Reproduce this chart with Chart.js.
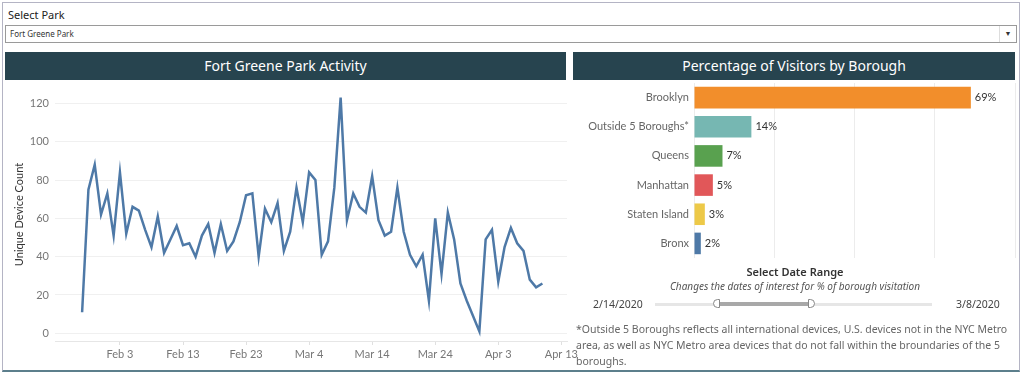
<!DOCTYPE html>
<html>
<head>
<meta charset="utf-8">
<script src="https://cdn.jsdelivr.net/npm/chart.js@4"></script>
<style>
    body { margin: 0; width: 1024px; height: 376px; background: #fff; font-family: "Noto Sans", sans-serif; overflow: hidden; }
    #frame { position: absolute; left: 2px; top: 2px; width: 1016px; height: 367px; border: 1px solid #b4b4c4; border-bottom: 2px solid #5c7f8c; }
    .abs { position: absolute; }
    #parkLabel { left: 8px; top: 7px; font-size: 11px; color: #222; }
    #dropdown { left: 5px; top: 25px; width: 1006px; height: 16px; border: 1px solid #9a9a9a; font-size: 8px; color: #333; line-height: 16px; padding-left: 4px; box-sizing: content-box; }
    #dropdown span { position: absolute; right: 0; top: 0; width: 16px; height: 16px; border-left: 1px solid #ddd; text-align: center; font-size: 7px; }
    .header { background: #27444f; color: #fff; font-size: 14px; text-align: center; line-height: 28px; top: 52px; height: 28px; }
    #lineBox { left: 0; top: 82px; width: 590px; height: 289px; }
    #barBox { left: 572px; top: 82px; width: 448px; height: 180px; }
    #rangeTitle { left: 572px; width: 446px; top: 264px; text-align: center; font-size: 11px; color: #333; font-weight: 600; }
    #rangeSub { left: 572px; width: 446px; top: 279px; text-align: center; font-size: 10px; color: #555; font-style: italic; }
    .dateText { top: 297px; font-size: 10.5px; color: #444; }
    #track { left: 655px; top: 303px; width: 277px; height: 3px; background: #e6e6e6; }
    #range { left: 717px; top: 302px; width: 92px; height: 4px; background: #a8a8a8; }
    .knob { top: 299px; width: 7px; height: 9px; border: 1px solid #888; background: #fff; box-sizing: border-box; }
    #note { left: 576px; top: 321px; width: 440px; font-size: 10.5px; line-height: 16px; color: #666; }
</style>
</head>
<body>
<div id="frame"></div>
<div class="abs" id="parkLabel">Select Park</div>
<div class="abs" id="dropdown">Fort Greene Park<span>&#9660;</span></div>
<div class="abs header" style="left:5px;width:561px;">Fort Greene Park Activity</div>
<div class="abs header" style="left:573px;width:442px;">Percentage of Visitors by Borough</div>
<div class="abs" id="lineBox"><canvas id="lineChart"></canvas></div>
<div class="abs" id="barBox"><canvas id="barChart"></canvas></div>
<div class="abs" id="rangeTitle">Select Date Range</div>
<div class="abs" id="rangeSub">Changes the dates of interest for % of borough visitation</div>
<div class="abs dateText" style="left:593px;">2/14/2020</div>
<div class="abs dateText" style="left:956px;">3/8/2020</div>
<div class="abs" id="track"></div>
<div class="abs" id="range"></div>
<div class="abs knob" style="left:713px;border-radius:5px 0 0 5px;"></div>
<div class="abs knob" style="left:808px;border-radius:0 5px 5px 0;"></div>
<div class="abs" id="note">*Outside 5 Boroughs reflects all international devices, U.S. devices not in the NYC Metro area, as well as NYC Metro area devices that do not fall within the broundaries of the 5 boroughs.</div>

<script>
    // daily counts starting Jan 28 2020
    var startDate = new Date(2020, 0, 28);
    var deviceCount = [11, 75, 88, 62, 73, 51, 84, 52, 66, 64, 54, 45, 61, 42, 49, 56, 46, 47, 40, 51,
        57, 42, 57, 43, 48, 58, 72, 73, 40, 65, 58, 68, 43, 53, 76, 58, 84, 80, 41, 48,
        76, 123, 59, 73, 66, 63, 82, 59, 51, 53, 76, 53, 41, 35, 41, 17, 60, 31, 63, 49,
        26, 17, 9, 1, 49, 54, 27, 45, 55, 47, 43, 28, 24, 26];
    var xTickLabels = ['Feb 3', 'Feb 13', 'Feb 23', 'Mar 4', 'Mar 14', 'Mar 24', 'Apr 3', 'Apr 13'];
    var yTicks = [0, 20, 40, 60, 80, 100, 120];

    var boroughs = ['Brooklyn', 'Outside 5 Boroughs*', 'Queens', 'Manhattan', 'Staten Island', 'Bronx'];
    var boroughPct = [69, 14.3, 7.1, 4.7, 2.7, 1.7];
    var boroughColors = ['#f28e2b', '#76b7b2', '#59a14f', '#e15759', '#edc948', '#4e79a7'];

    var MONTHS = ['Jan', 'Feb', 'Mar', 'Apr'];
    function dayOffset(label) {
        var parts = label.split(' ');
        var d = new Date(2020, MONTHS.indexOf(parts[0]), parseInt(parts[1], 10));
        return Math.round((d - startDate) / 86400000);
    }

    // pin an axis to a fixed size and drop the label overhang padding
    function fixAxis(size) {
        return function (axis) {
            if (axis.isHorizontal()) axis.height = size; else axis.width = size;
            axis.paddingTop = axis.paddingBottom = axis.paddingLeft = axis.paddingRight = 0;
        };
    }

    var tickFont = { family: 'Lato', size: 11 };
    var tickColor = '#777';

    var linePoints = deviceCount.map(function (v, i) { return { x: i, y: v }; });
    var xTickDays = xTickLabels.map(dayOffset);

    new Chart(document.getElementById('lineChart'), {
        type: 'line',
        data: {
            datasets: [{
                data: linePoints,
                borderColor: '#4e79a7',
                borderWidth: 2.5,
                pointRadius: 0,
                tension: 0,
                fill: false
            }]
        },
        options: {
            responsive: true,
            maintainAspectRatio: false,
            animation: false,
            layout: { autoPadding: false, padding: { top: 6, right: 23 } },
            plugins: { legend: { display: false }, tooltip: { enabled: false } },
            scales: {
                x: {
                    type: 'linear',
                    min: -4.3,
                    max: 76.9,
                    afterBuildTicks: function (axis) {
                        axis.ticks = xTickDays.map(function (d) { return { value: d }; });
                    },
                    afterFit: fixAxis(30),
                    ticks: {
                        autoSkip: false,
                        maxRotation: 0,
                        color: tickColor,
                        font: tickFont,
                        padding: 3,
                        callback: function (value) {
                            var idx = xTickDays.indexOf(value);
                            return idx >= 0 ? xTickLabels[idx] : '';
                        }
                    },
                    grid: { drawOnChartArea: false, drawTicks: true, tickLength: 4, color: '#e0e0e0' },
                    border: { display: true, color: '#e6e6e6' }
                },
                y: {
                    min: -4,
                    max: 128,
                    afterBuildTicks: function (axis) {
                        axis.ticks = yTicks.map(function (v) { return { value: v }; });
                    },
                    afterFit: fixAxis(55),
                    ticks: { color: tickColor, font: tickFont, padding: 6 },
                    grid: { color: '#f0f0f0', drawTicks: false },
                    border: { display: false },
                    title: { display: true, text: 'Unique Device Count', color: '#333', font: { family: 'Lato', size: 11 }, padding: { top: 13, bottom: 0 } }
                }
            }
        }
    });

    var valueLabels = {
        id: 'valueLabels',
        afterDatasetsDraw: function (chart) {
            var ctx = chart.ctx;
            var meta = chart.getDatasetMeta(0);
            ctx.save();
            ctx.font = '11px Lato';
            ctx.fillStyle = '#333';
            ctx.textBaseline = 'middle';
            ctx.textAlign = 'left';
            meta.data.forEach(function (bar, i) {
                ctx.fillText(Math.round(boroughPct[i]) + '%', bar.x + 4, bar.y);
            });
            ctx.restore();
        }
    };

    new Chart(document.getElementById('barChart'), {
        type: 'bar',
        data: {
            labels: boroughs,
            datasets: [{
                data: boroughPct,
                backgroundColor: boroughColors,
                borderWidth: 0,
                barPercentage: 0.74,
                categoryPercentage: 1
            }]
        },
        options: {
            indexAxis: 'y',
            responsive: true,
            maintainAspectRatio: false,
            animation: false,
            layout: { autoPadding: false, padding: { top: 1, right: 5 } },
            plugins: { legend: { display: false }, tooltip: { enabled: false } },
            scales: {
                x: {
                    min: 0,
                    max: 80,
                    ticks: { display: false, stepSize: 20 },
                    afterFit: fixAxis(4),
                    grid: { color: '#ececec', drawTicks: false },
                    border: { display: false }
                },
                y: {
                    afterFit: fixAxis(122),
                    ticks: { color: '#666', font: tickFont, padding: 5 },
                    grid: { display: false, drawTicks: false },
                    border: { display: false }
                }
            }
        },
        plugins: [valueLabels]
    });
</script>
</body>
</html>
